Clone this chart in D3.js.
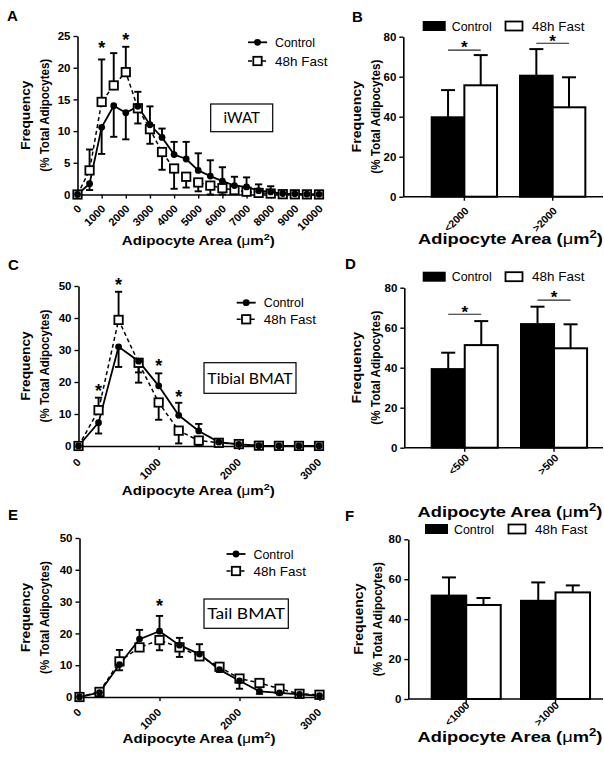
<!DOCTYPE html>
<html><head><meta charset="utf-8">
<script src="https://d3js.org/d3.v7.min.js"></script>
<style>html,body{margin:0;padding:0;background:#fff;}svg{display:block;}</style>
</head><body>
<svg id="chart" width="604" height="761"></svg>
<script>
// ================= DATA =================
const groups = ["Control", "48h Fast"];

// Panel A – iWAT distribution
const iwatArea = [0,500,1000,1500,2000,2500,3000,3500,4000,4500,5000,5500,6000,6500,7000,7500,8000,8500,9000,9500,10000];
const iwatControl    = [0,1.7,10.6,14.0,12.9,13.9,11.0,9.0,6.3,5.6,3.8,2.9,2.1,1.4,1.2,0.6,0.4,0.15,0.1,0.05,0.02];
const iwatControlErr = [0,1.0,4.2,4.9,4.2,2.3,2.9,1.4,2.0,2.7,2.7,2.5,2.2,1.4,1.5,1.0,0.9,0.3,0.2,0.1,0.05];
const iwatControlDir = [1,-1,-1,-1,-1,1,1,1,1,1,1,1,1,1,1,1,1,1,1,1,1];
const iwatFast       = [0,3.8,14.6,17.2,19.3,13.6,10.3,6.7,4.1,2.8,1.9,1.4,1.0,0.7,0.45,0.25,0.15,0.05,0.03,0.02,0.01];
const iwatFastErr    = [0,3.3,6.7,5.1,4.0,2.4,2.3,2.8,3.2,1.7,1.4,1.4,1.0,0.6,0.4,0.3,0.2,0.1,0.05,0.02,0.01];
const iwatFastDir    = [1,1,1,1,1,-1,-1,-1,-1,-1,-1,-1,-1,-1,-1,-1,-1,-1,-1,-1,-1];
const iwatStarArea = [1000, 2000];
const iwatStarY    = [23.8, 25.0];
const iwatTicksX = [0,1000,2000,3000,4000,5000,6000,7000,8000,9000,10000];
const iwatTicksY = [0,5,10,15,20,25];

// Panel C – Tibial BMAT distribution
const bmatArea = [0,250,500,750,1000,1250,1500,1750,2000,2250,2500,2750,3000];
const tibControl    = [0,7.3,31.0,26.5,18.8,9.6,4.7,1.2,0.5,0.1,0.05,0.03,0.02];
const tibControlErr = [0,3.4,6.3,6.7,3.9,3.9,2.2,0.5,0.3,0.1,0.05,0.03,0.02];
const tibControlDir = [1,-1,-1,-1,1,1,1,1,1,1,1,1,1];
const tibFast       = [0,11.2,39.4,26.0,13.6,4.8,1.7,1.0,0.6,0.1,0.05,0.03,0.02];
const tibFastErr    = [0,3.9,8.8,3.0,5.4,4.0,1.5,0.6,0.3,0.1,0.05,0.03,0.02];
const tibFastDir    = [1,1,1,-1,-1,-1,-1,-1,-1,-1,-1,-1,-1];
const tibStarArea = [250, 500, 1000, 1250];
const tibStarY    = [18.5, 51.5, 26.3, 16.4];

// Panel E – Tail BMAT distribution
const tailControl    = [0,1.4,10.2,18.2,20.7,16.3,13.5,8.6,5.1,1.8,1.3,0.8,0.4];
const tailControlErr = [0,0.4,1.8,2.9,4.8,2.3,3.1,0.7,2.5,0.8,0.5,0.4,0.3];
const tailControlDir = [1,1,-1,1,1,1,1,-1,-1,-1,-1,-1,-1];
const tailFast       = [0,1.6,11.2,15.6,17.9,15.6,12.8,9.5,5.8,4.4,2.6,1.0,0.7];
const tailFastErr    = [0,0.5,3.6,1.0,3.2,3.0,1.2,1.2,0.8,0.8,0.6,0.5,0.4];
const tailFastDir    = [1,1,1,-1,-1,-1,-1,1,1,1,1,1,1];
const tailStarArea = [1000];
const tailStarY    = [29.8];
const bmatTicksX = [0,1000,2000,3000];
const bmatTicksY = [0,10,20,30,40,50];

// Bar panels B, D, F
const barTicksY = [0,20,40,60,80];
const iwatBins = ["<2000", ">2000"];
const iwatBarControl = [39.7, 60.5], iwatBarControlErr = [13.6, 13.3];
const iwatBarFast    = [55.7, 44.7], iwatBarFastErr    = [15.1, 15.0];
const iwatBarSig     = [73.3, 76.7];
const tibBins = ["<500", ">500"];
const tibBarControl = [39.3, 61.8], tibBarControlErr = [8.2, 8.7];
const tibBarFast    = [51.3, 49.7], tibBarFastErr    = [12.0, 12.0];
const tibBarSig     = [66.7, 73.8];
const tailBins = ["<1000", ">1000"];
const tailBarControl = [51.8, 49.2], tailBarControlErr = [9.1, 9.2];
const tailBarFast    = [47.1, 53.4], tailBarFastErr    = [3.5, 3.5];
const tailBarSig     = [null, null];

// ================= DRAWING =================
const FONT = "'Liberation Sans', Arial, Helvetica, sans-serif";
const svg = d3.select("#chart");

function fitTitle(g, cx, cy, rot, target, size, build) {
  const t = g.append("text").attr("text-anchor", "middle").attr("font-family", FONT)
    .attr("font-size", size).attr("font-weight", "bold").attr("fill", "#000");
  build(t);
  const w = t.node().getBBox().width;
  t.attr("transform", "translate(" + cx + "," + cy + ") rotate(" + rot + ") scale(" + (target / w) + ",1)");
  return t;
}
function areaTitle(t, size) {
  t.append("tspan").text("Adipocyte Area (");
  t.append("tspan").attr("font-weight", "normal").text("\u03bc");
  t.append("tspan").text("m");
  t.append("tspan").attr("font-size", size * 0.72).attr("dy", -size * 0.38).text("2");
  t.append("tspan").attr("dy", size * 0.38).text(")");
}
function yTitles(g, x1, x2, cy, w1, w2) {
  fitTitle(g, x1, cy, -90, w1, 13.5, t => t.text("Frequency"));
  fitTitle(g, x2, cy, -90, w2, 13.5, t => t.text("(% Total Adipocytes)"));
}
function letter(g, x, y, s) {
  g.append("text").attr("x", x).attr("y", y).attr("font-family", FONT).attr("font-weight", "bold")
    .attr("font-size", 15).text(s);
}
function styleAxis(ax, fs) {
  ax.attr("font-family", FONT).attr("font-size", fs).attr("font-weight", "bold");
  ax.select(".domain").attr("stroke", "#000").attr("stroke-width", 1.6);
  ax.selectAll(".tick line").attr("stroke", "#000").attr("stroke-width", 1.4);
  ax.selectAll(".tick text").attr("fill", "#000");
}
function fitLabel(g, x, y, target, size, txt) {
  const t = g.append("text").attr("font-family", FONT).attr("font-size", size).attr("fill", "#000").text(txt);
  const w = t.node().getBBox().width;
  t.attr("transform", "translate(" + x + "," + y + ") scale(" + (target / w) + ",1)");
  return t;
}

function linePanel(p, d) {
  const g = svg.append("g");
  const x = d3.scaleLinear().domain([0, p.xmax]).range([p.x0, p.x1]);
  const y = d3.scaleLinear().domain([0, p.ymax]).range([p.y0, p.y1]);

  const ax = g.append("g").attr("transform", "translate(0," + p.y0 + ")")
    .call(d3.axisBottom(x).tickValues(d.ticksX).tickSize(4).tickSizeOuter(0).tickFormat(d3.format("d")));
  styleAxis(ax, 11);
  ax.selectAll(".tick text").attr("x", 0).attr("y", 0).attr("dy", null)
    .attr("text-anchor", "end").attr("transform", "translate(" + p.tl[0] + "," + p.tl[1] + ") rotate(-45)");
  const ay = g.append("g").attr("transform", "translate(" + p.x0 + ",0)")
    .call(d3.axisLeft(y).tickValues(d.ticksY).tickSize(4).tickPadding(3).tickSizeOuter(0));
  styleAxis(ay, 11.5);

  const series = [
    { v: d.fast, e: d.fastErr, dir: d.fastDir, dash: "4,3" },
    { v: d.control, e: d.controlErr, dir: d.controlDir, dash: null }
  ];
  const idx = d.area.map((_, i) => i);
  series.forEach(s => {
    const eg = g.append("g").attr("stroke", "#000").attr("stroke-width", 1.9);
    const tip = i => y(Math.max(0, s.v[i] + s.dir[i] * s.e[i]));
    eg.selectAll("line.v").data(idx).join("line").attr("class", "v")
      .attr("x1", i => x(d.area[i])).attr("x2", i => x(d.area[i]))
      .attr("y1", i => y(s.v[i])).attr("y2", tip);
    eg.selectAll("line.c").data(idx).join("line").attr("class", "c")
      .attr("x1", i => x(d.area[i]) - 3.6).attr("x2", i => x(d.area[i]) + 3.6)
      .attr("y1", tip).attr("y2", tip);
  });
  series.forEach(s => {
    g.append("path").datum(idx)
      .attr("d", d3.line().x(i => x(d.area[i])).y(i => y(s.v[i])))
      .attr("fill", "none").attr("stroke", "#000").attr("stroke-width", s.dash ? 1.5 : 1.8)
      .attr("stroke-dasharray", s.dash);
  });
  g.selectAll("rect.m").data(idx).join("rect").attr("class", "m")
    .attr("x", i => x(d.area[i]) - 4.2).attr("y", i => y(d.fast[i]) - 4.2)
    .attr("width", 8.4).attr("height", 8.4).attr("fill", "#fff").attr("stroke", "#000").attr("stroke-width", 1.8);
  g.selectAll("circle.m").data(idx).join("circle").attr("class", "m")
    .attr("cx", i => x(d.area[i])).attr("cy", i => y(d.control[i])).attr("r", 3.4).attr("fill", "#000");
  g.selectAll("text.star").data(d.starArea).join("text").attr("class", "star")
    .attr("x", a => x(a)).attr("y", (a, i) => y(d.starY[i])).attr("dy", "0.55em")
    .attr("text-anchor", "middle").attr("font-family", FONT).attr("font-weight", "bold")
    .attr("font-size", 18).text("*");

  const lg = g.append("g");
  const L = p.legX, W = 19;
  lg.append("line").attr("x1", L).attr("x2", L + W).attr("y1", p.legY[0]).attr("y2", p.legY[0])
    .attr("stroke", "#000").attr("stroke-width", 1.8);
  lg.append("circle").attr("cx", L + W / 2).attr("cy", p.legY[0]).attr("r", 3.4).attr("fill", "#000");
  lg.append("line").attr("x1", L).attr("x2", L + W).attr("y1", p.legY[1]).attr("y2", p.legY[1])
    .attr("stroke", "#000").attr("stroke-width", 1.5).attr("stroke-dasharray", "4,3");
  lg.append("rect").attr("x", L + W / 2 - 4.2).attr("y", p.legY[1] - 4.2).attr("width", 8.4).attr("height", 8.4)
    .attr("fill", "#fff").attr("stroke", "#000").attr("stroke-width", 1.8);
  fitLabel(lg, L + 27, p.legY[0] + 4.5, 40, 12.5, groups[0]);
  fitLabel(lg, L + 27, p.legY[1] + 4.5, 53, 12.5, groups[1]);

  g.append("rect").attr("x", p.box[0]).attr("y", p.box[1]).attr("width", p.box[2]).attr("height", p.box[3])
    .attr("fill", "#fff").attr("stroke", "#000").attr("stroke-width", 1.2);
  const bt = g.append("text").attr("font-family", "Lato, 'Open Sans', sans-serif").attr("font-size", p.boxFont)
    .attr("text-anchor", "middle").attr("fill", "#000").text(p.boxText);
  const bw = bt.node().getBBox().width;
  bt.attr("transform", "translate(" + (p.box[0] + p.box[2] / 2) + "," + (p.box[1] + p.box[3] / 2 + p.boxFont * 0.36) + ") scale(" + (p.boxTextW / bw) + ",1)");

  letter(g, p.letter[0], p.letter[1], p.letter[2]);
  yTitles(g, p.yt[0], p.yt[1], (p.y0 + p.y1) / 2, 70, 113);
  fitTitle(g, p.xt[0], p.xt[1], 0, 153, 13.5, t => areaTitle(t, 13.5));
}

function barPanel(p, d) {
  const g = svg.append("g");
  const n = d.bins.length;
  const x = d3.scaleBand().domain(d.bins)
    .range([p.bandStart, p.bandStart + p.step * (n - p.pi)]).paddingInner(p.pi).paddingOuter(0);
  const xs = d3.scaleBand().domain(groups).range([0, x.bandwidth()]);
  const y = d3.scaleLinear().domain([0, 80]).range([p.y0, p.y1]);

  const ax = g.append("g").attr("transform", "translate(0," + p.y0 + ")")
    .call(d3.axisBottom(x).tickSize(4).tickSizeOuter(0));
  styleAxis(ax, 10.5);
  ax.select(".domain").attr("d", "M" + p.axisX + ",0H" + p.xEnd);
  ax.selectAll(".tick text").attr("x", 0).attr("y", 0).attr("dy", null)
    .attr("text-anchor", "end").attr("transform", "translate(" + p.tl[0] + "," + p.tl[1] + ") rotate(-45)");
  const ay = g.append("g").attr("transform", "translate(" + p.axisX + ",0)")
    .call(d3.axisLeft(y).tickValues(barTicksY).tickSize(4).tickPadding(3).tickSizeOuter(0));
  styleAxis(ay, 11.5);

  const rows = [];
  d.bins.forEach((b, i) => {
    rows.push({ bin: b, grp: groups[0], v: d.control[i], e: d.controlErr[i] });
    rows.push({ bin: b, grp: groups[1], v: d.fast[i], e: d.fastErr[i] });
  });
  const bx = r => x(r.bin) + xs(r.grp);
  const eg = g.append("g").attr("stroke", "#000").attr("stroke-width", 2);
  eg.selectAll("line.v").data(rows).join("line").attr("class", "v")
    .attr("x1", r => bx(r) + xs.bandwidth() / 2).attr("x2", r => bx(r) + xs.bandwidth() / 2)
    .attr("y1", r => y(r.v)).attr("y2", r => y(r.v + r.e));
  eg.selectAll("line.c").data(rows).join("line").attr("class", "c")
    .attr("x1", r => bx(r) + xs.bandwidth() / 2 - 7).attr("x2", r => bx(r) + xs.bandwidth() / 2 + 7)
    .attr("y1", r => y(r.v + r.e)).attr("y2", r => y(r.v + r.e));
  g.selectAll("rect.bar").data(rows).join("rect").attr("class", "bar")
    .attr("x", r => bx(r)).attr("y", r => y(r.v))
    .attr("width", xs.bandwidth()).attr("height", r => p.y0 - y(r.v))
    .attr("fill", r => r.grp === groups[0] ? "#000" : "#fff")
    .attr("stroke", "#000").attr("stroke-width", 2);

  d.bins.forEach((b, i) => {
    if (d.sig[i] == null) return;
    const xa = x(b) + xs(groups[0]) + xs.bandwidth() / 2;
    const xb = x(b) + xs(groups[1]) + xs.bandwidth() / 2;
    g.append("line").attr("x1", xa).attr("x2", xb).attr("y1", y(d.sig[i])).attr("y2", y(d.sig[i]))
      .attr("stroke", "#222").attr("stroke-width", 1.1);
    g.append("text").attr("x", (xa + xb) / 2).attr("y", y(d.sig[i]) - 6).attr("dy", "0.55em")
      .attr("text-anchor", "middle").attr("font-family", FONT).attr("font-weight", "bold")
      .attr("font-size", 17).text("*");
  });

  const lg = g.append("g");
  lg.append("rect").attr("x", p.leg[0]).attr("y", p.leg[2]).attr("width", 23).attr("height", 10).attr("fill", "#000");
  lg.append("rect").attr("x", p.leg[1]).attr("y", p.leg[2] + 0.5).attr("width", 17).attr("height", 9)
    .attr("fill", "#fff").attr("stroke", "#000").attr("stroke-width", 1.8);
  fitLabel(lg, p.leg[0] + 29, p.leg[2] + 9.5, 40, 12.5, groups[0]);
  fitLabel(lg, p.leg[1] + 26.5, p.leg[2] + 9.5, 53, 12.5, groups[1]);

  letter(g, p.letter[0], p.letter[1], p.letter[2]);
  yTitles(g, p.yt[0], p.yt[1], (p.y0 + p.y1) / 2, 72, 114);
  fitTitle(g, p.xt[0], p.xt[1], 0, 185, 15, t => areaTitle(t, 15));
}

linePanel(
  { x0: 77.5, x1: 319, y0: 194.5, y1: 36, xmax: 10000, ymax: 25, letter: [7, 20.5, "A"], tl: [4, 15],
    legX: 248, legY: [42.3, 61], box: [210.7, 104, 62, 27.7], boxText: "iWAT", boxFont: 15, boxTextW: 36.7,
    yt: [30, 49], xt: [198.3, 245] },
  { area: iwatArea, control: iwatControl, controlErr: iwatControlErr, controlDir: iwatControlDir,
    fast: iwatFast, fastErr: iwatFastErr, fastDir: iwatFastDir, starArea: iwatStarArea, starY: iwatStarY,
    ticksX: iwatTicksX, ticksY: iwatTicksY });

linePanel(
  { x0: 78.5, x1: 319, y0: 446, y1: 286, xmax: 3000, ymax: 50, letter: [8, 270, "C"], tl: [2.5, 17],
    legX: 236.7, legY: [302.7, 319.3], box: [204, 362.7, 92, 30.6], boxText: "Tibial BMAT", boxFont: 16, boxTextW: 86,
    yt: [30, 49], xt: [198.3, 495] },
  { area: bmatArea, control: tibControl, controlErr: tibControlErr, controlDir: tibControlDir,
    fast: tibFast, fastErr: tibFastErr, fastDir: tibFastDir, starArea: tibStarArea, starY: tibStarY,
    ticksX: bmatTicksX, ticksY: bmatTicksY });

linePanel(
  { x0: 79.5, x1: 319.5, y0: 697, y1: 538, xmax: 3000, ymax: 50, letter: [8, 519.5, "E"], tl: [2, 16],
    legX: 226.5, legY: [554, 571], box: [204, 599, 84.3, 29.3], boxText: "Tail BMAT", boxFont: 16, boxTextW: 78.7,
    yt: [30, 49], xt: [199, 743] },
  { area: bmatArea, control: tailControl, controlErr: tailControlErr, controlDir: tailControlDir,
    fast: tailFast, fastErr: tailFastErr, fastDir: tailFastDir, starArea: tailStarArea, starY: tailStarY,
    ticksX: bmatTicksX, ticksY: bmatTicksY });

barPanel(
  { axisX: 403.3, xEnd: 603, y0: 196.7, y1: 36.7, bandStart: 431.7, step: 88.3, pi: 0.26, tl: [5, 15],
    letter: [352, 22, "B"], leg: [422.7, 505.5, 21], yt: [361, 380], xt: [510.5, 244] },
  { bins: iwatBins, control: iwatBarControl, controlErr: iwatBarControlErr,
    fast: iwatBarFast, fastErr: iwatBarFastErr, sig: iwatBarSig });

barPanel(
  { axisX: 404.3, xEnd: 603, y0: 447.7, y1: 287.7, bandStart: 431.7, step: 89.3, pi: 0.26, tl: [5, 11],
    letter: [345, 269, "D"], leg: [422.7, 505.5, 271.7], yt: [361, 380], xt: [510, 516.7] },
  { bins: tibBins, control: tibBarControl, controlErr: tibBarControlErr,
    fast: tibBarFast, fastErr: tibBarFastErr, sig: tibBarSig });

barPanel(
  { axisX: 408.3, xEnd: 603, y0: 699, y1: 539.3, bandStart: 431.7, step: 89.3, pi: 0.227, tl: [4, 7],
    letter: [345, 521, "F"], leg: [425, 508.5, 524], yt: [363, 382], xt: [510, 742] },
  { bins: tailBins, control: tailBarControl, controlErr: tailBarControlErr,
    fast: tailBarFast, fastErr: tailBarFastErr, sig: tailBarSig });
</script>
</body></html>
